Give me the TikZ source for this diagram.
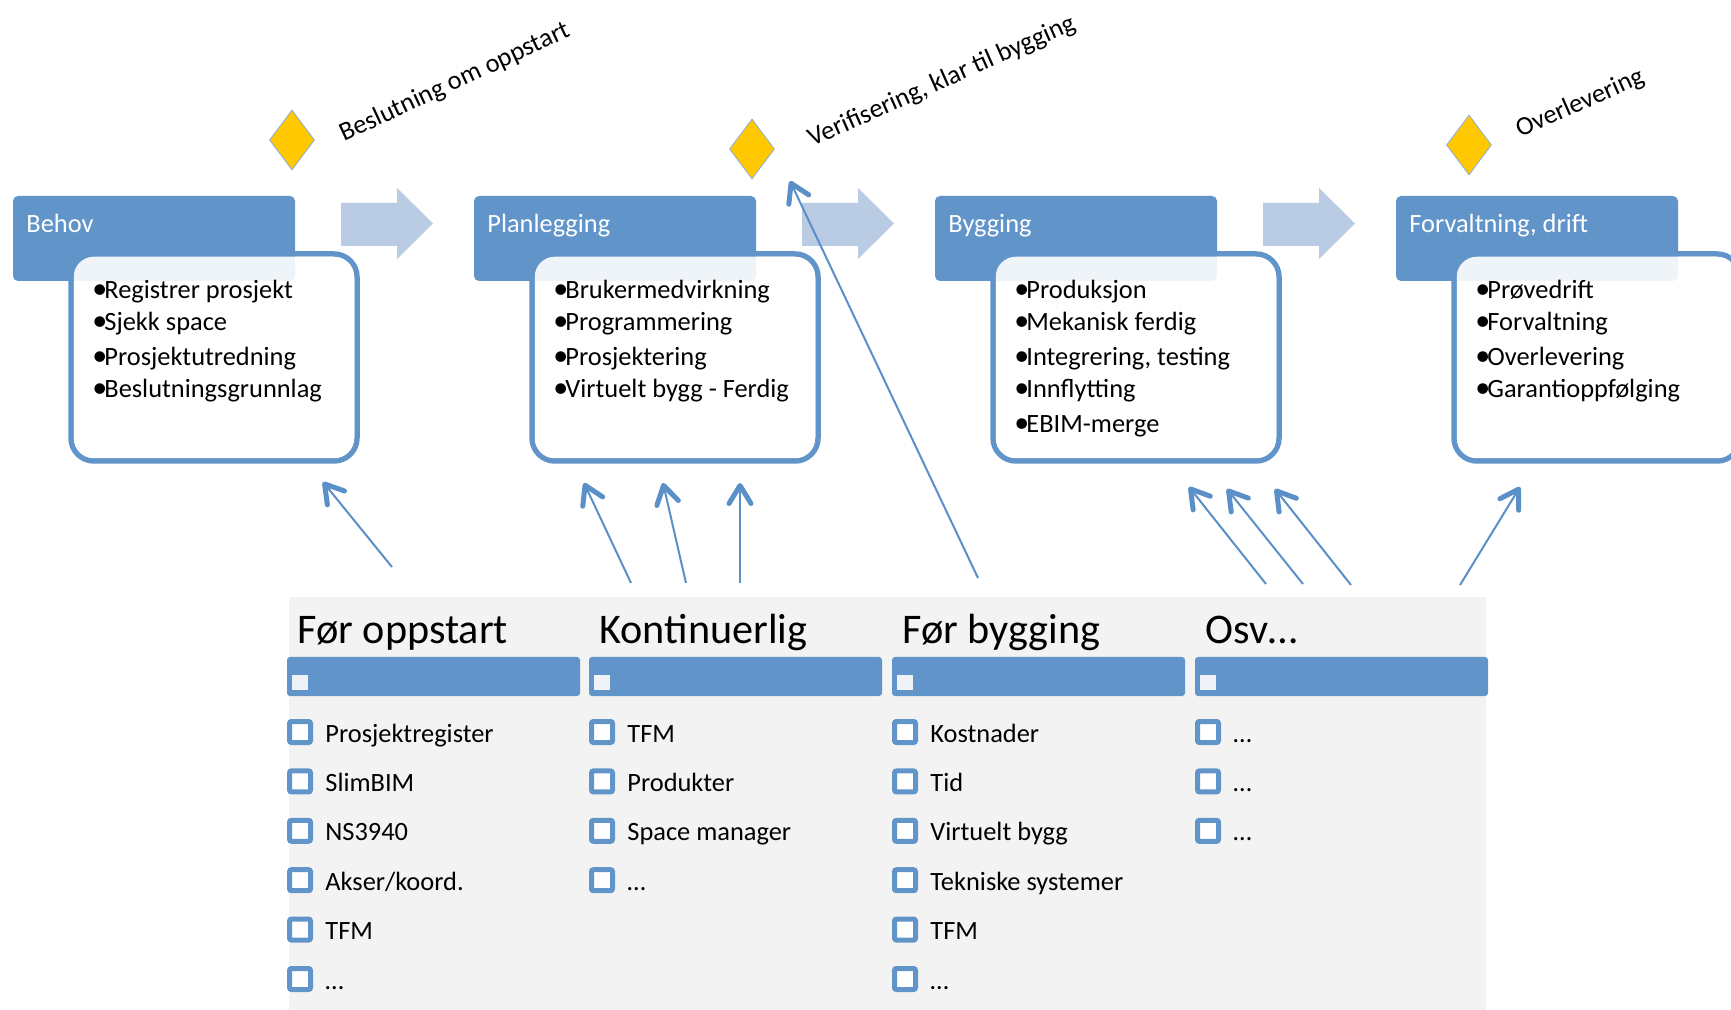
\documentclass[tikz,border=0pt]{standalone}
\usepackage{fontspec}
\setmainfont{Carlito}
\usetikzlibrary{arrows.meta,shapes.geometric}
\definecolor{hblue}{HTML}{6195C9}
\definecolor{lblue}{HTML}{B9CCE4}
\definecolor{cblue}{HTML}{5B8FC7}
\definecolor{gold}{HTML}{FFC800}
\definecolor{dborder}{HTML}{8AAED8}
\definecolor{panelgray}{HTML}{F3F3F3}
\definecolor{pale}{HTML}{EFF3F8}
\tikzset{
 hdr/.style={fill=hblue, rounded corners=2.5pt, minimum width=141pt, minimum height=42.5pt, inner sep=0, outer sep=0, anchor=north west},
 bodybox/.style={draw=hblue, line width=2.75pt, fill=white, rounded corners=11.5pt, minimum width=143pt, minimum height=103.5pt, inner sep=0, outer sep=0, anchor=north west},
 veil/.style={fill=white, fill opacity=0.9, rounded corners=10pt, minimum width=140.25pt, minimum height=100.75pt, inner sep=0, outer sep=0},
 txt/.style={font=\fontsize{13.2pt}{15pt}\selectfont, anchor=base west, inner sep=0},
 htxt/.style={txt, text=white},
 bul/.style={font=\fontsize{15pt}{15pt}\selectfont, anchor=base west, inner sep=0},
 big/.style={font=\fontsize{21.1pt}{25pt}\selectfont, anchor=base west, inner sep=0},
 bar/.style={fill=hblue, rounded corners=1.5pt, minimum width=146.5pt, minimum height=19.5pt, inner sep=0, outer sep=0, anchor=north west},
 barsq/.style={fill=pale, minimum width=8pt, minimum height=7.5pt, inner sep=0, outer sep=0, anchor=north west},
 chk/.style={draw=hblue, fill=white, line width=2.5pt, rounded corners=1pt, minimum size=10.5pt, inner sep=0},
 gem/.style={diamond, fill=gold, draw=dborder, line width=0.4pt, minimum width=22.5pt, minimum height=30pt, inner sep=0, shape aspect=0.75},
 link/.style={cblue, line width=1pt, -{Straight Barb[length=9pt,width=11pt,line width=2.5pt,round]}},
 blockarrow/.style={fill=lblue},
}
\begin{document}
\begin{tikzpicture}[x=0.5pt,y=-0.5pt]
\fill[white] (0,0) rectangle (1731,1010);
\useasboundingbox (0,0) rectangle (1731,1010);

% ---------- phase boxes ----------
\foreach \i/\xo in {1/13,2/474,3/935,4/1396}{
  \node[bodybox] (b\i) at (\xo+58,254) {};
  \node[hdr] (h\i) at (\xo,196) {};
  \node[veil] (v\i) at (b\i.center) {};
}
\node[htxt] (h1t) at (26,233) {Behov};
\node[htxt] (h2t) at (487,233) {Planlegging};
\node[htxt] (h3t) at (948,233) {Bygging};
\node[htxt] (h4t) at (1409,233) {Forvaltning, drift};

% bullets
\foreach \i/\xo in {1/13,2/474,3/935,4/1396}{
  \foreach \j/\yb in {1/299,2/331,3/366,4/398}{
    \node[bul] (d\i\j) at (\xo+79,\yb) {•};
  }
}
\node[bul] (d35) at (1014,433) {•};

\node[txt] (t11) at (104,299) {Registrer prosjekt};
\node[txt] (t12) at (104,331) {Sjekk space};
\node[txt] (t13) at (104,366) {Prosjektutredning};
\node[txt] (t14) at (104,398) {Beslutningsgrunnlag};

\node[txt] (t21) at (565,299) {Brukermedvirkning};
\node[txt] (t22) at (565,331) {Programmering};
\node[txt] (t23) at (565,366) {Prosjektering};
\node[txt] (t24) at (565,398) {Virtuelt bygg - Ferdig};

\node[txt] (t31) at (1026,299) {Produksjon};
\node[txt] (t32) at (1026,331) {Mekanisk ferdig};
\node[txt] (t33) at (1026,366) {Integrering, testing};
\node[txt] (t34) at (1026,398) {Innflytting};
\node[txt] (t35) at (1026,433) {EBIM-merge};

\node[txt] (t41) at (1487,299) {Prøvedrift};
\node[txt] (t42) at (1487,331) {Forvaltning};
\node[txt] (t43) at (1487,366) {Overlevering};
\node[txt] (t44) at (1487,398) {Garantioppfølging};

% block arrows
\foreach \bx in {341,802,1263}{
  \fill[blockarrow] (\bx,203) -- (\bx+56,203) -- (\bx+56,188) -- (\bx+92,223.5)
     -- (\bx+56,259) -- (\bx+56,246) -- (\bx,246) -- cycle;
}

% diamonds and milestone labels
\node[gem] (g1) at (292,140) {};
\node[gem] (g2) at (752,149) {};
\node[gem] (g3) at (1469,145) {};
\node[txt, rotate=25] (l1) at (344,142) {Beslutning om oppstart};
\node[txt, rotate=24] (l2) at (812,147) {Verifisering, klar til bygging};
\node[txt, rotate=24] (l3) at (1520,138) {Overlevering};

% ---------- bottom panel ----------
\node[fill=panelgray, anchor=north west, minimum width=598.5pt, minimum height=206.5pt, inner sep=0, outer sep=0] (panel) at (289,597) {};

\foreach \i/\xo in {1/287,2/589,3/892,4/1195}{
  \node[bar] (bar\i) at (\xo,657) {};
  \node[barsq] (sq\i) at (\xo+5,675) {};
}
\node[big] (c1) at (297,644) {Før oppstart};
\node[big] (c2) at (599,644) {Kontinuerlig};
\node[big] (c3) at (902,644) {Før bygging};
\node[big] (c4) at (1205,644) {Osv…};

% checkboxes
\foreach \j in {0,...,5}{
  \node[chk] (k1\j) at (300,732+49.4*\j) {};
  \node[chk] (k3\j) at (905,732+49.4*\j) {};
}
\foreach \j in {0,...,3}{
  \node[chk] (k2\j) at (602,732+49.4*\j) {};
}
\foreach \j in {0,...,2}{
  \node[chk] (k4\j) at (1208,732+49.4*\j) {};
}

\node[txt] (i10) at (325,742) {Prosjektregister};
\node[txt] (i11) at (325,791.4) {SlimBIM};
\node[txt] (i12) at (325,840.8) {NS3940};
\node[txt] (i13) at (325,890.2) {Akser/koord.};
\node[txt] (i14) at (325,939.6) {TFM};
\node[txt] (i15) at (325,989) {…};

\node[txt] (i20) at (627,742) {TFM};
\node[txt] (i21) at (627,791.4) {Produkter};
\node[txt] (i22) at (627,840.8) {Space manager};
\node[txt] (i23) at (627,890.2) {…};

\node[txt] (i30) at (930,742) {Kostnader};
\node[txt] (i31) at (930,791.4) {Tid};
\node[txt] (i32) at (930,840.8) {Virtuelt bygg};
\node[txt] (i33) at (930,890.2) {Tekniske systemer};
\node[txt] (i34) at (930,939.6) {TFM};
\node[txt] (i35) at (930,989) {…};

\node[txt] (i40) at (1233,742) {…};
\node[txt] (i41) at (1233,791.4) {…};
\node[txt] (i42) at (1233,840.8) {…};

% ---------- connectors ----------
\coordinate (s1) at (392,567);  \coordinate (e1) at (323,482);
\coordinate (s2) at (631,583);  \coordinate (e2) at (584,483);
\coordinate (s3) at (686,583);  \coordinate (e3) at (663,483);
\coordinate (s4) at (740,583);  \coordinate (e4) at (740,483);
\coordinate (s5) at (978,578);  \coordinate (e5) at (790,181);
\coordinate (s6) at (1266,584); \coordinate (e6) at (1189,487);
\coordinate (s7) at (1303,584); \coordinate (e7) at (1227,489);
\coordinate (s8) at (1351,585); \coordinate (e8) at (1275,489);
\coordinate (s9) at (1460,585); \coordinate (e9) at (1520,487);
\foreach \n in {1,...,9}{
  \draw[link] (s\n) -- (e\n);
}
\end{tikzpicture}
\end{document}
